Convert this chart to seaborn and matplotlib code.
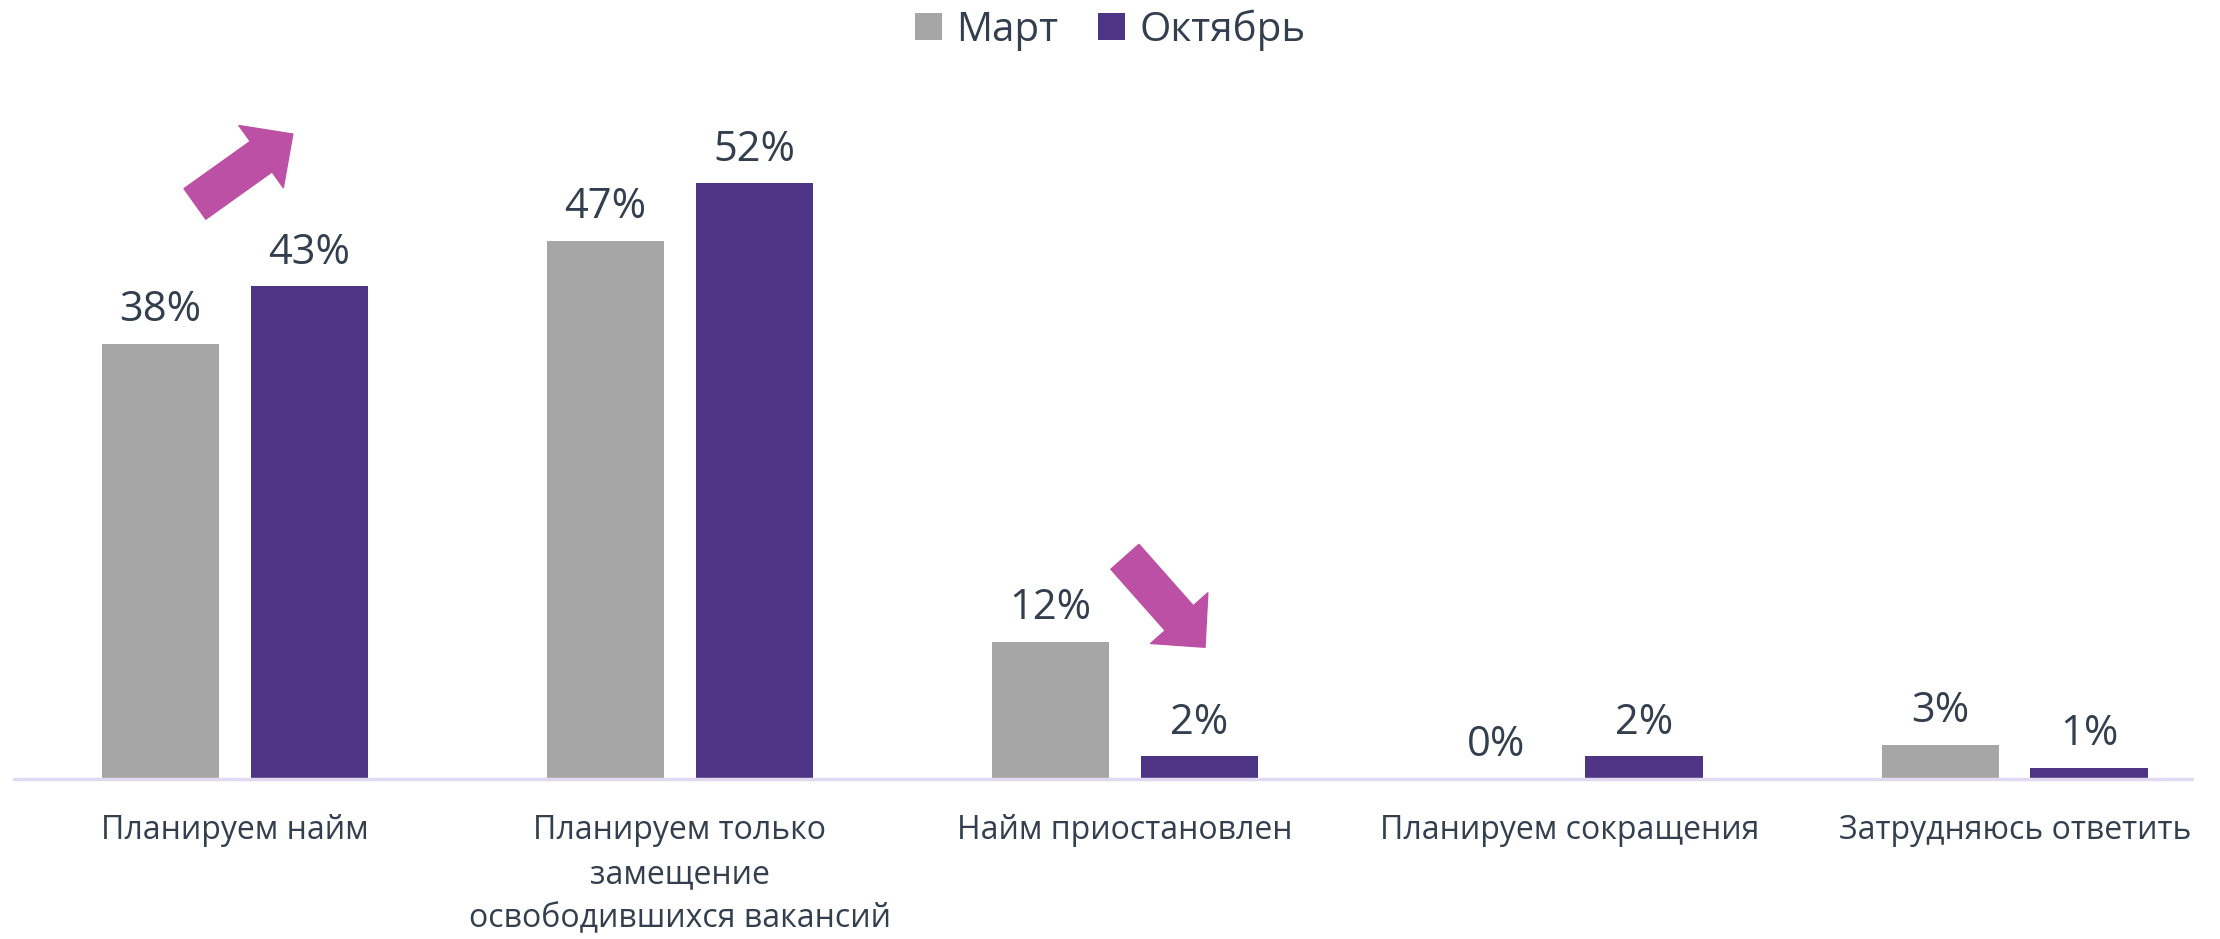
import matplotlib
matplotlib.use("Agg")
import matplotlib.pyplot as plt
import pandas as pd
import seaborn as sns

# Данные
categories = [
    "Планируем найм",
    "Планируем только\nзамещение\nосвободившихся вакансий",
    "Найм приостановлен",
    "Планируем сокращения",
    "Затрудняюсь ответить",
]
series = ["Март", "Октябрь"]
mart = [38, 47, 12, 0, 3]
oktyabr = [43, 52, 2, 2, 1]

colors = {"Март": "#A6A6A6", "Октябрь": "#4E3485"}
text_color = "#333F4F"
arrow_color = "#BC50A4"

df = pd.DataFrame({
    "cat": categories * 2,
    "period": ["Март"] * 5 + ["Октябрь"] * 5,
    "value": mart + oktyabr,
})

sns.set_style("white")
plt.rcParams["font.family"] = ["Open Sans", "DejaVu Sans"]

fig = plt.figure(figsize=(22.2, 9.39), dpi=100)
ax = fig.add_axes([0, 160 / 939, 1, 779 / 939])

sns.barplot(data=df, x="cat", y="value", hue="period", order=categories,
            hue_order=series, palette=colors, width=0.668, gap=0.21,
            linewidth=0, saturation=1, ax=ax)

ax.set_xlim(-0.528, 4.461)
ax.set_ylim(0, 68)
sns.despine(ax=ax, left=True, bottom=True)
ax.set_yticks([])
ax.set_xlabel("")
ax.set_ylabel("")
ax.tick_params(axis="x", length=0, pad=25, labelsize=23, labelcolor=text_color)
for lbl in ax.get_xticklabels():
    lbl.set_linespacing(1.45)

ax.axhline(0, xmin=14 / 2220, xmax=2192 / 2220, color="#E1D9EF", lw=2.5, clip_on=False)

for cont in ax.containers:
    ax.bar_label(cont, fmt="%g%%", padding=9, fontsize=30, color=text_color)

# стрелки тренда
for tail, tip in [((-0.09, 50.2), (0.13, 56.3)), ((2.0, 19.4), (2.18, 11.5))]:
    ax.annotate("", xy=tip, xytext=tail,
                arrowprops=dict(arrowstyle="simple,head_length=28,head_width=55,tail_width=27",
                                color=arrow_color, shrinkA=0, shrinkB=0, mutation_scale=1))

sns.move_legend(ax, "center", bbox_to_anchor=(0.5, 1 - 30 / 779), ncol=2, frameon=False,
                title=None, fontsize=29, handlelength=0.67, handleheight=0.67,
                handletextpad=0.35, columnspacing=1.0, labelcolor=text_color)

fig.savefig("out.png", dpi=100)
